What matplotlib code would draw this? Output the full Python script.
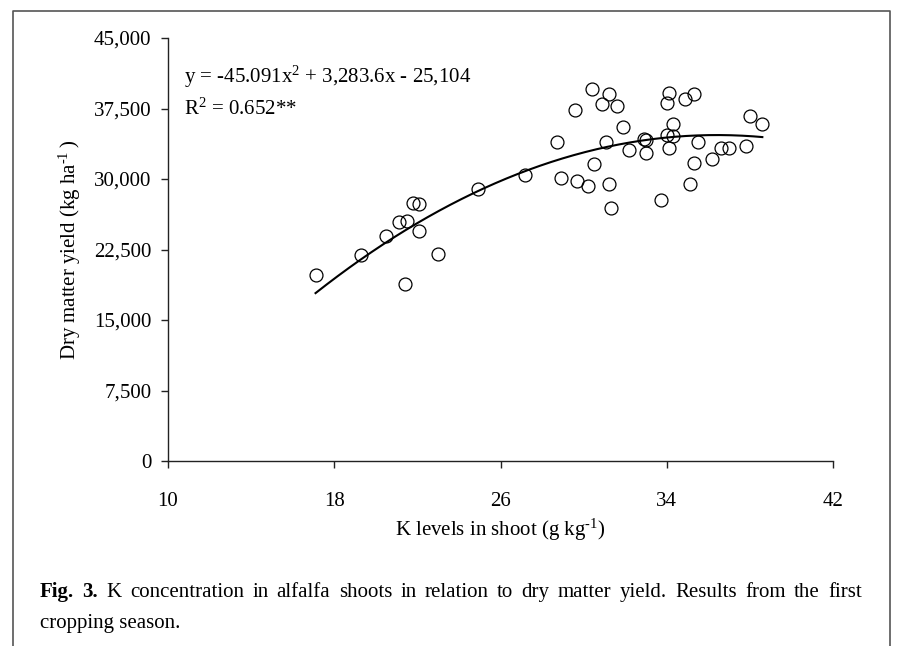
import matplotlib
matplotlib.use("Agg")
import matplotlib.pyplot as plt
from matplotlib.lines import Line2D
import numpy as np

# ---- data ----
k_levels = [17.1, 19.3, 20.5, 21.1, 21.5, 21.8, 22.1, 22.1, 21.4, 23.0,
            24.9, 27.2, 28.7, 28.9, 29.6, 29.7, 30.2, 30.4, 30.5, 30.9,
            31.2, 31.1, 31.2, 31.3, 31.6, 31.9, 32.2, 32.9, 33.0, 33.0,
            33.7, 34.0, 34.1, 34.0, 34.1, 34.3, 34.3, 34.9, 35.3, 35.5,
            35.3, 35.1, 36.2, 36.6, 37.0, 37.8, 38.0, 38.6]
dm_yield = [19800, 21900, 23900, 25400, 25500, 27500, 27300, 24500, 18800, 22000,
            28900, 30400, 33900, 30100, 37300, 29800, 29300, 39600, 31600, 38000,
            39000, 33900, 29500, 26900, 37800, 35500, 33100, 34300, 34100, 32800,
            27800, 38100, 39100, 34700, 33300, 35900, 34600, 38500, 39000, 33900,
            31700, 29500, 32100, 33300, 33300, 33500, 36700, 35800]
coef_a, coef_b, coef_c = -45.091, 3283.6, -25104
x_ticks = [10, 18, 26, 34, 42]
y_ticks = [0, 7500, 15000, 22500, 30000, 37500, 45000]
y_tick_labels = ["0", "7,500", "15,000", "22,500", "30,000", "37,500", "45,000"]
equation_text = "y = -45.091x$^{2}$ + 3,283.6x - 25,104"
r2_text = "R$^{2}$ = 0.652**"
x_label = r"K levels in shoot (g kg$^{\text{-1}}$)"
y_label = "Dry matter yield (kg ha$^{\\text{-1}}$\u2009)"
caption_bold = ["Fig.", "3."]
caption_line1 = "K concentration in alfalfa shoots in relation to dry matter yield. Results from the first"
caption_line2 = "cropping season."

plt.rcParams["font.family"] = ["Liberation Serif", "DejaVu Serif"]
plt.rcParams["mathtext.fontset"] = "custom"
plt.rcParams["mathtext.rm"] = "Liberation Serif"
plt.rcParams["mathtext.it"] = "Liberation Serif:italic"
plt.rcParams["mathtext.bf"] = "Liberation Serif:bold"

W, H = 898, 646
fig = plt.figure(figsize=(W / 100, H / 100), dpi=100)
ax = fig.add_axes([168 / W, 1 - 461 / H, (833 - 168) / W, (461 - 38) / H])

fs = 15
# fitted curve
xc = np.linspace(min(k_levels), max(k_levels), 200)
yc = coef_a * xc ** 2 + coef_b * xc + coef_c
ax.plot(xc, yc, color="black", lw=1.5, zorder=2)
ax.plot(k_levels, dm_yield, linestyle="none", marker="o", ms=9.3,
        mfc="none", mec="black", mew=0.9, zorder=3)

ax.set_xlim(10, 42)
ax.set_ylim(0, 45000)
ax.set_xticks(x_ticks)
ax.set_xticklabels([str(v) for v in x_ticks])
ax.set_yticks(y_ticks)
ax.set_yticklabels(y_tick_labels)
for s in ["top", "right"]:
    ax.spines[s].set_visible(False)
for s in ["left", "bottom"]:
    ax.spines[s].set_linewidth(1.0)
    ax.spines[s].set_color("#222222")
ax.tick_params(axis="x", direction="out", length=5, width=1.0, pad=17, labelsize=fs, colors="#222222", labelcolor="black")
ax.tick_params(axis="y", direction="out", length=5, width=1.0, pad=7, labelsize=fs, colors="#222222", labelcolor="black")

ax.set_xlabel(x_label, fontsize=fs)
ax.xaxis.set_label_coords(0.5, -0.163)
ax.xaxis.label.set_va("center")
ax.set_ylabel(y_label, fontsize=fs)
ax.yaxis.set_label_coords(-0.148, 0.5)
ax.yaxis.label.set_va("center")

ax.text(0.024, 0.894, equation_text, transform=ax.transAxes, fontsize=fs, va="baseline", ha="left")
ax.text(0.024, 0.818, r2_text, transform=ax.transAxes, fontsize=fs, va="baseline", ha="left")

# frame border (open at bottom)
frame_col = "#555555"
fx0, fx1, fy = 12.5 / W, 889.5 / W, 1 - 10.5 / H
fig.add_artist(Line2D([fx0, fx0, fx1, fx1], [0, fy, fy, 0], transform=fig.transFigure,
                      color=frame_col, lw=1.2))

# caption, first line justified
fig.canvas.draw()
renderer = fig.canvas.get_renderer()
words = [(w, "bold") for w in caption_bold] + [(w, "normal") for w in caption_line1.split()]
left_px, right_px = 40, 862
base1 = 1 - 597 / H
tmp = []
widths = []
for w, wt in words:
    t = fig.text(0, base1, w, fontsize=fs, fontweight=wt, va="baseline", ha="left")
    bb = t.get_window_extent(renderer)
    widths.append(bb.width)
    tmp.append(t)
gap = (right_px - left_px - sum(widths)) / (len(words) - 1)
xpos = left_px
for t, wdt in zip(tmp, widths):
    t.set_x(xpos / W)
    xpos += wdt + gap
fig.text(left_px / W, 1 - 628 / H, caption_line2, fontsize=fs, va="baseline", ha="left")

fig.savefig("out.png", dpi=100)
